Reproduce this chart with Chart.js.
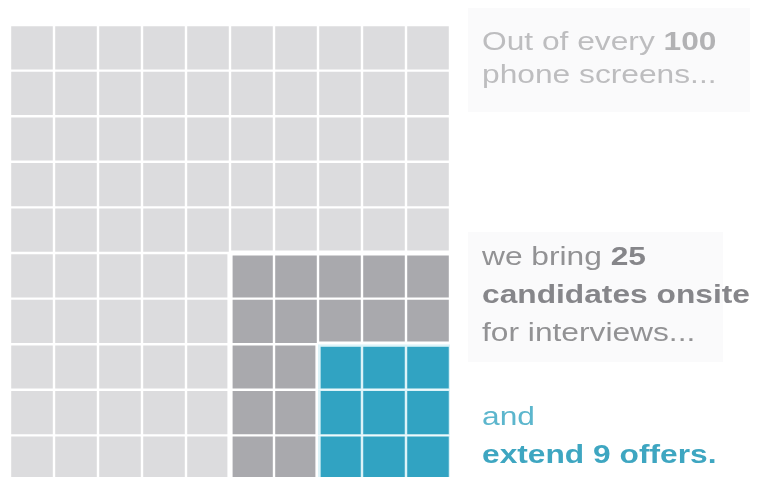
<!DOCTYPE html>
<html>
<head>
<meta charset="utf-8">
<script src="https://cdn.jsdelivr.net/npm/chart.js@4/dist/chart.umd.min.js"></script>
<style>
  html, body { margin: 0; padding: 0; background: #ffffff; }
  #wrap { position: relative; width: 765px; height: 477px; overflow: hidden; background: #fff; }
  #waffle { position: absolute; left: 0; top: 0; }
  .box { position: absolute; background: #fafafb; }
  .note {
    position: absolute; left: 482px; white-space: nowrap;
    font-family: "Liberation Sans", Arial, sans-serif; font-size: 26px;
    transform: scaleX(1.22); transform-origin: 0 0;
  }
  .note b { font-weight: bold; }
</style>
</head>
<body>
<div id="wrap">
  <div class="box" style="left:468px;top:8px;width:282px;height:104px"></div>
  <div class="box" style="left:468px;top:232px;width:255px;height:130px"></div>
  <canvas id="waffle" width="765" height="481"></canvas>
  <div class="note" style="top:25px;line-height:33px;color:#bdbdbf">Out of every <b style="color:#b2b2b4">100</b><br>phone screens...</div>
  <div class="note" style="top:237px;line-height:38px;color:#929294">we bring <b style="color:#86868a">25</b><br><b style="color:#86868a">candidates onsite</b><br>for interviews...</div>
  <div class="note" style="top:397px;line-height:38px;color:#5cb6cd">and<br><b style="color:#3ea6c1">extend 9 offers.</b></div>
</div>
<script>
// Các giai đoạn tuyển dụng và số lượng (trên 100 cuộc phỏng vấn điện thoại)
const stages = ["Phone screens", "Onsite interviews", "Offers"];
const stageCounts = [100, 25, 9];

// Màu cho từng giai đoạn
const stageColors = ["#dcdcde", "#a9a9ad", "#31a3c2"];
const stageBorders = ["#ffffff", "#ffffff", "#dcf3f8"];

// Lưới 10 x 10, mỗi ô là 1 ứng viên
const gridSide = Math.sqrt(stageCounts[0]);
const columnLabels = Array.from({ length: gridSide }, (_, i) => String(i + 1));

// Tìm giai đoạn của ô (cột, hàng tính từ dưới lên)
function stageOf(col, row) {
  let s = 0;
  stageCounts.forEach((count, i) => {
    const side = Math.sqrt(count);
    if (col >= gridSide - side && row < side) s = i;
  });
  return s;
}

// Độ dày viền: dày hơn ở ranh giới giữa các giai đoạn
function edgeWidth(col, row, dc, dr) {
  const c2 = col + dc, r2 = row + dr;
  if (c2 < 0 || c2 >= gridSide || r2 < 0 || r2 >= gridSide) return 1.2;
  return stageOf(col, row) !== stageOf(c2, r2) ? 2.6 : 1.2;
}

// Mỗi hàng là một dataset xếp chồng
const datasets = [];
for (let row = 0; row < gridSide; row++) {
  datasets.push({
    label: "row " + (row + 1),
    data: columnLabels.map(() => 1),
    backgroundColor: (ctx) => stageColors[stageOf(ctx.dataIndex, row)],
    borderColor: (ctx) => stageBorders[stageOf(ctx.dataIndex, row)],
    borderWidth: (ctx) => ({
      left: edgeWidth(ctx.dataIndex, row, -1, 0),
      right: edgeWidth(ctx.dataIndex, row, 1, 0),
      top: edgeWidth(ctx.dataIndex, row, 0, 1),
      bottom: edgeWidth(ctx.dataIndex, row, 0, -1),
    }),
    borderSkipped: false,
    inflateAmount: 0,
    barPercentage: 1,
    categoryPercentage: 1,
  });
}

new Chart(document.getElementById("waffle"), {
  type: "bar",
  data: { labels: columnLabels, datasets: datasets },
  options: {
    responsive: false,
    animation: false,
    layout: { padding: { left: 10, right: 315, top: 25, bottom: 0 } },
    scales: {
      x: { stacked: true, display: false },
      y: { stacked: true, display: false, min: 0, max: gridSide },
    },
    plugins: {
      legend: { display: false },
      tooltip: { enabled: false },
    },
  },
});
</script>
</body>
</html>
